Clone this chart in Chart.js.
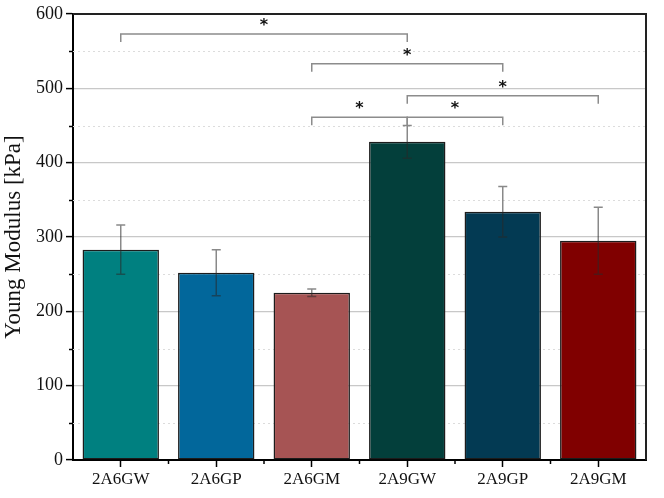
<!DOCTYPE html>
<html>
<head>
<meta charset="utf-8">
<script src="https://cdn.jsdelivr.net/npm/chart.js@4"></script>
<style>
  html, body { margin: 0; padding: 0; background: #fff; }
  #wrap { width: 664px; height: 498px; }
</style>
</head>
<body>
<div id="wrap"><canvas id="chart"></canvas></div>
<script>
// data
const groups = ['2A6GW', '2A6GP', '2A6GM', '2A9GW', '2A9GP', '2A9GM'];
const modulus = [283, 252, 225, 428, 334, 295];
const errs = [33, 31, 5, 22, 34, 45];
const barColors = ['#008080', '#02679b', '#a65454', '#033f3b', '#033a53', '#800000'];
const yTicks = [0, 100, 200, 300, 400, 500, 600];
// significance brackets: [from index, to index, level in kPa]
const brackets = [[0, 3, 573], [2, 4, 533], [3, 5, 490], [2, 3, 461], [3, 4, 461]];

const serif = '"Liberation Serif", "DejaVu Serif", serif';

const extras = {
  id: 'extras',
  beforeDatasetsDraw(c) {
    const ctx = c.ctx, a = c.chartArea, y = c.scales.y, x = c.scales.x;
    ctx.save();
    // dotted minor grid + minor ticks
    ctx.strokeStyle = '#dcdcdc';
    ctx.lineWidth = 1;
    ctx.setLineDash([2, 3]);
    for (let v = 50; v < 600; v += 100) {
      const py = Math.round(y.getPixelForValue(v)) + 0.5;
      ctx.beginPath(); ctx.moveTo(a.left, py); ctx.lineTo(a.right, py); ctx.stroke();
    }
    ctx.setLineDash([]);
    ctx.strokeStyle = '#000';
    ctx.lineWidth = 1.5;
    for (let v = 50; v < 600; v += 100) {
      const py = Math.round(y.getPixelForValue(v)) + 0.5;
      ctx.beginPath(); ctx.moveTo(a.left - 4, py); ctx.lineTo(a.left, py); ctx.stroke();
    }
    // minor x ticks between categories
    for (let i = 0; i < groups.length - 1; i++) {
      const px = (x.getPixelForValue(i) + x.getPixelForValue(i + 1)) / 2;
      ctx.beginPath(); ctx.moveTo(px, a.bottom); ctx.lineTo(px, a.bottom + 4); ctx.stroke();
    }
    ctx.restore();
  },
  afterDatasetsDraw(c) {
    const ctx = c.ctx, a = c.chartArea, y = c.scales.y, x = c.scales.x;
    ctx.save();
    // error bars
    ctx.strokeStyle = 'rgba(40,40,40,0.55)';
    ctx.lineWidth = 1.5;
    modulus.forEach((v, i) => {
      const px = x.getPixelForValue(i);
      const t = y.getPixelForValue(v + errs[i]);
      const b = y.getPixelForValue(v - errs[i]);
      ctx.beginPath();
      ctx.moveTo(px, t); ctx.lineTo(px, b);
      ctx.moveTo(px - 4.5, t); ctx.lineTo(px + 4.5, t);
      ctx.moveTo(px - 4.5, b); ctx.lineTo(px + 4.5, b);
      ctx.stroke();
    });
    // brackets + stars
    ctx.strokeStyle = '#8c8c8c';
    ctx.lineWidth = 1.5;
    ctx.fillStyle = '#111';
    ctx.font = 'bold 16px "DejaVu Sans", sans-serif';
    ctx.textAlign = 'center';
    ctx.textBaseline = 'middle';
    brackets.forEach(([i, j, lvl]) => {
      const x1 = x.getPixelForValue(i), x2 = x.getPixelForValue(j);
      const py = y.getPixelForValue(lvl);
      ctx.beginPath();
      ctx.moveTo(x1, py + 8); ctx.lineTo(x1, py); ctx.lineTo(x2, py); ctx.lineTo(x2, py + 8);
      ctx.stroke();
      ctx.fillText('*', (x1 + x2) / 2, py - 8);
    });
    // top and right frame
    ctx.strokeStyle = '#222';
    ctx.lineWidth = 2;
    ctx.beginPath();
    ctx.moveTo(a.left, a.top); ctx.lineTo(a.right, a.top); ctx.lineTo(a.right, a.bottom);
    ctx.stroke();
    ctx.restore();
  }
};

new Chart(document.getElementById('chart'), {
  type: 'bar',
  data: {
    labels: groups,
    datasets: [{
      data: modulus,
      backgroundColor: barColors,
      borderColor: '#1c1c1c',
      borderWidth: 1.5,
      borderSkipped: false,
      barPercentage: 0.8,
      categoryPercentage: 1
    }]
  },
  options: {
    responsive: true,
    maintainAspectRatio: false,
    animation: false,
    layout: { padding: { top: 14, right: 18, left: 0, bottom: 0 } },
    plugins: { legend: { display: false }, tooltip: { enabled: false } },
    scales: {
      x: {
        grid: { drawOnChartArea: false, offset: false, tickLength: 7, tickColor: '#000', tickWidth: 1.5 },
        border: { color: '#000', width: 2 },
        ticks: { color: '#111', padding: 2, font: { family: serif, size: 17 } },
        afterFit(s) { s.height = 38; }
      },
      y: {
        min: 0,
        max: 600,
        afterBuildTicks(s) { s.ticks = yTicks.map(v => ({ value: v })); },
        grid: { color: '#c8c8c8', lineWidth: 1.2, tickLength: 7, tickColor: '#000', tickWidth: 1.5 },
        border: { color: '#000', width: 2 },
        ticks: { color: '#111', padding: 3, font: { family: serif, size: 18 } },
        title: {
          display: true,
          text: 'Young Modulus [kPa]',
          color: '#111',
          padding: { top: 0, bottom: 1 },
          font: { family: serif, size: 23 }
        },
        afterFit(s) { s.width = 73; }
      }
    }
  },
  plugins: [extras]
});
</script>
</body>
</html>
